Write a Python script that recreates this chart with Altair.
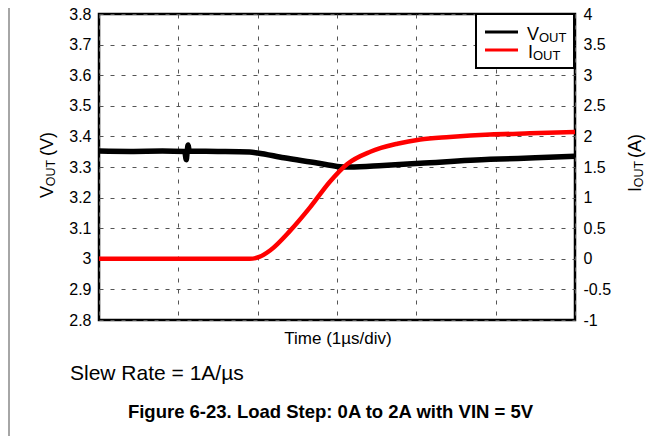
import altair as alt
import pandas as pd

FONT = "Liberation Sans"

# ---- data ----
vout_time = [0.0, 0.4, 0.8, 1.08, 1.10, 1.112, 1.124, 1.136, 1.5, 1.9, 2.0, 2.33, 2.75, 3.0, 3.16, 3.58, 4.05, 4.93, 5.5, 6.0]
vout_values = [3.352, 3.351, 3.352, 3.351, 3.324, 3.352, 3.372, 3.352, 3.351, 3.349, 3.346, 3.330, 3.313, 3.302, 3.300, 3.305, 3.312, 3.325, 3.330, 3.335]

iout_time = [0.0, 1.9, 2.02, 2.16, 2.41, 2.66, 2.91, 3.13, 3.42, 3.76, 4.05, 4.42, 4.93, 5.43, 6.0]
iout_values = [0.0, 0.0, 0.03, 0.14, 0.46, 0.84, 1.26, 1.55, 1.75, 1.88, 1.95, 1.99, 2.03, 2.05, 2.07]

vout_ticks = [2.8, 2.9, 3.0, 3.1, 3.2, 3.3, 3.4, 3.5, 3.6, 3.7, 3.8]
iout_ticks = [-1, -0.5, 0, 0.5, 1, 1.5, 2, 2.5, 3, 3.5, 4]
time_ticks = [0, 1, 2, 3, 4, 5, 6]

series_main = ["V", "I"]
series_sub = "OUT"
left_unit = "(V)"
right_unit = "(A)"
x_title = "Time (1\u00b5s/div)"
note_text = "Slew Rate = 1A/\u00b5s"
caption_text = "Figure 6-23. Load Step: 0A to 2A with VIN = 5V"

vdf = pd.DataFrame({"t": vout_time, "v": vout_values})
idf = pd.DataFrame({"t": iout_time, "i": iout_values})

GRID = dict(grid=True, gridColor="#555555", gridDash=[4, 7], gridWidth=1)

x_enc = alt.X(
    "t:Q",
    scale=alt.Scale(domain=[0, 6], nice=False, zero=False),
    axis=alt.Axis(values=time_ticks, labels=False, ticks=False, domain=False, title=None, **GRID),
)

black = alt.Chart(vdf).mark_line(color="black", strokeWidth=5.5, interpolate="monotone").encode(
    x=x_enc,
    y=alt.Y(
        "v:Q",
        scale=alt.Scale(domain=[2.8, 3.8], nice=False, zero=False),
        axis=alt.Axis(values=vout_ticks, labelExpr="datum.value + ''", ticks=False, domain=False,
                      labelPadding=8, title=None, **GRID),
    ),
)

red = alt.Chart(idf).mark_line(color="#ff0000", strokeWidth=4.5, interpolate="monotone").encode(
    x=x_enc,
    y=alt.Y(
        "i:Q",
        scale=alt.Scale(domain=[-1, 4], nice=False, zero=False),
        axis=alt.Axis(orient="right", values=iout_ticks, labelExpr="datum.value + ''", ticks=False,
                      domain=False, labelPadding=8, grid=False, title=None),
    ),
)

one = pd.DataFrame({"a": [0]})


def txt(s, x, y, size, weight="normal", angle=None, align="center"):
    kw = dict(font=FONT, fontSize=size, fontWeight=weight, align=align, baseline="alphabetic", color="black")
    if angle is not None:
        kw["angle"] = angle
    return alt.Chart(pd.DataFrame({"label": [s]})).mark_text(**kw).encode(
        x=alt.value(x), y=alt.value(y), text="label:N"
    )


legend_box = alt.Chart(one).mark_rect(fill="white", stroke="black", strokeWidth=2).encode(
    x=alt.value(377), x2=alt.value(475), y=alt.value(0), y2=alt.value(54)
)
leg_black = alt.Chart(one).mark_rule(color="black", strokeWidth=3).encode(
    x=alt.value(386), x2=alt.value(419), y=alt.value(18)
)
leg_red = alt.Chart(one).mark_rule(color="#ff0000", strokeWidth=3).encode(
    x=alt.value(386), x2=alt.value(419), y=alt.value(36)
)
page_border = alt.Chart(one).mark_rule(color="#888888", strokeWidth=1.5).encode(
    x=alt.value(-90), y=alt.value(-6), y2=alt.value(422)
)

annotations = [
    legend_box, leg_black, leg_red,
    txt(series_main[0], 428, 25.5, 18, align="left"),
    txt(series_sub, 440, 27.5, 13, align="left"),
    txt(series_main[1], 429, 43.5, 18, align="left"),
    txt(series_sub, 434, 45.5, 13, align="left"),
    # left axis title (rotated)
    txt(series_main[0], -46, 178, 18, angle=270),
    txt(series_sub, -44, 159, 12.5, angle=270),
    txt(left_unit, -46, 130, 18, angle=270),
    # right axis title (rotated)
    txt(series_main[1], 542, 175.5, 18, angle=270),
    txt(series_sub, 544, 160, 12.5, angle=270),
    txt(right_unit, 542, 132, 18, angle=270),
    # x title and notes
    txt(x_title, 239, 329.5, 17),
    txt(note_text, -29, 365.5, 21, align="left"),
    txt(caption_text, 231.5, 404, 18.5, weight="bold"),
    page_border,
]

chart = (
    alt.layer(black, red, *annotations)
    .resolve_scale(y="independent")
    .properties(
        width=476,
        height=306,
        autosize=alt.AutoSizeParams(type="none"),
        padding={"left": 91, "top": 6, "right": 82, "bottom": 116},
        background="white",
    )
    .configure_view(stroke="black", strokeWidth=2.5)
    .configure_axis(labelFont=FONT, labelFontSize=16, labelColor="black")
)

chart.save("out.html", embed_options={"renderer": "svg", "actions": False})
